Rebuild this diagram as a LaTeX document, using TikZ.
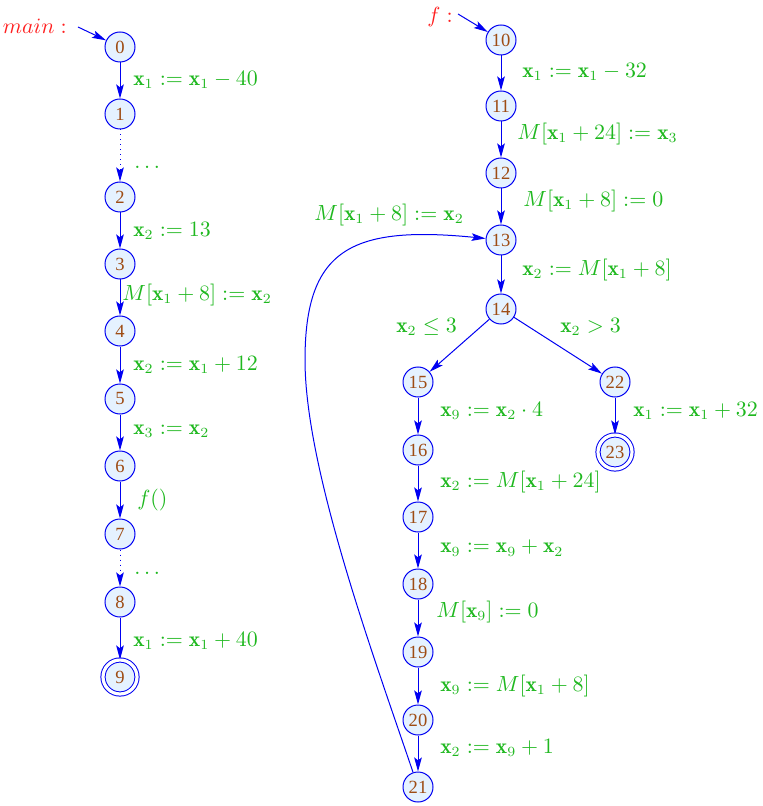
\documentclass[tikz,border=0pt]{standalone}
\usepackage{fontspec}
\newfontfamily\numfont{Liberation Serif}
\usetikzlibrary{arrows.meta}
\definecolor{nodeblue}{rgb}{0,0,0.95}
\definecolor{nodefill}{rgb}{0.9,0.95,1}
\definecolor{numbrown}{rgb}{0.62,0.3,0.08}
\definecolor{labgreen}{rgb}{0.12,0.72,0.12}
\definecolor{initred}{rgb}{1,0.12,0.12}
\begin{document}
\begin{tikzpicture}[x=0.5pt,y=-0.5pt,
  st/.style={circle,draw=nodeblue,fill=nodefill,line width=0.5pt,minimum size=15pt,inner sep=0pt,font=\fontsize{9.3}{10}\numfont,text=numbrown},
  acc/.style={st,double=white,double distance=1.6pt,minimum size=17pt},
  lab/.style={text=labgreen,font=\fontsize{10.7}{12}\selectfont,inner sep=0pt,anchor=west},
  ini/.style={text=initred,font=\fontsize{10.7}{12}\selectfont,inner sep=0pt,anchor=east},
  e/.style={draw=nodeblue,line width=0.5pt,-{Stealth[length=7pt,width=3.8pt,inset=1.4pt]}}]
\useasboundingbox (0,0) rectangle (762,806);

% main
\node[st] (n0) at (120,47) {0};
\node[st] (n1) at (120,114) {1};
\node[st] (n2) at (120,197) {2};
\node[st] (n3) at (120,264) {3};
\node[st] (n4) at (120,331) {4};
\node[st] (n5) at (120,399) {5};
\node[st] (n6) at (120,466) {6};
\node[st] (n7) at (120,534) {7};
\node[st] (n8) at (120,602) {8};
\node[acc] (n9) at (120,677) {9};

% f
\node[st] (n10) at (501,40) {10};
\node[st] (n11) at (501,106) {11};
\node[st] (n12) at (501,173) {12};
\node[st] (n13) at (501,240) {13};
\node[st] (n14) at (501,309) {14};
\node[st] (n15) at (418,382) {15};
\node[st] (n22) at (615,382) {22};
\node[acc] (n23) at (615,452) {23};
\node[st] (n16) at (418,450) {16};
\node[st] (n17) at (418,517) {17};
\node[st] (n18) at (418,584) {18};
\node[st] (n19) at (418,652) {19};
\node[st] (n20) at (418,720) {20};
\node[st] (n21) at (418,787) {21};

% initial
\node[ini] (mainlab) at (67,26) {$main:$};
\coordinate (mainstart) at (78,27);
\draw[e] (mainstart) -- (n0);
\node[ini] (flab) at (453,17) {$f:$};
\coordinate (fstart) at (458,14);
\draw[e] (fstart) -- (n10);

% main edges
\draw[e] (n0) -- (n1);
\draw[e,dotted] (n1) -- (n2);
\draw[e] (n2) -- (n3);
\draw[e] (n3) -- (n4);
\draw[e] (n4) -- (n5);
\draw[e] (n5) -- (n6);
\draw[e] (n6) -- (n7);
\draw[e,dotted] (n7) -- (n8);
\draw[e] (n8) -- (n9);

\node[lab] (l01) at (133,80) {$\mathbf{x}_1 := \mathbf{x}_1 - 40$};
\node[lab] (l12) at (134,167) {$\ldots$};
\node[lab] (l23) at (133,231) {$\mathbf{x}_2 := 13$};
\node[lab] (l34) at (122,295) {$M[\mathbf{x}_1+8] := \mathbf{x}_2$};
\node[lab] (l45) at (133,365) {$\mathbf{x}_2 := \mathbf{x}_1 + 12$};
\node[lab] (l56) at (133,431) {$\mathbf{x}_3 := \mathbf{x}_2$};
\node[lab] (l67) at (137,500) {$f()$};
\node[lab] (l78) at (134,573) {$\ldots$};
\node[lab] (l89) at (133,641) {$\mathbf{x}_1 := \mathbf{x}_1 + 40$};

% f edges
\draw[e] (n10) -- (n11);
\draw[e] (n11) -- (n12);
\draw[e] (n12) -- (n13);
\draw[e] (n13) -- (n14);
\draw[e] (n14) -- (n15);
\draw[e] (n14) -- (n22);
\draw[e] (n22) -- (n23);
\draw[e] (n15) -- (n16);
\draw[e] (n16) -- (n17);
\draw[e] (n17) -- (n18);
\draw[e] (n18) -- (n19);
\draw[e] (n19) -- (n20);
\draw[e] (n20) -- (n21);
\coordinate (bend) at (305,360);
\draw[e] (n21) .. controls (375,660) and (305,470) .. (bend) .. controls (305,250) and (350,225) .. (n13);

\node[lab] (l1011) at (522,72) {$\mathbf{x}_1 := \mathbf{x}_1 - 32$};
\node[lab] (l1112) at (517,134) {$M[\mathbf{x}_1+24] := \mathbf{x}_3$};
\node[lab] (l1213) at (523,201) {$M[\mathbf{x}_1+8] := 0$};
\node[lab] (l2113) at (314,215) {$M[\mathbf{x}_1+8] := \mathbf{x}_2$};
\node[lab] (l1314) at (522,270) {$\mathbf{x}_2 := M[\mathbf{x}_1+8]$};
\node[lab] (l1415) at (396,327) {$\mathbf{x}_2 \leq 3$};
\node[lab] (l1422) at (560,327) {$\mathbf{x}_2 > 3$};
\node[lab] (l1516) at (440,411) {$\mathbf{x}_9 := \mathbf{x}_2 \cdot 4$};
\node[lab] (l2223) at (633,411) {$\mathbf{x}_1 := \mathbf{x}_1 + 32$};
\node[lab] (l1617) at (440,482) {$\mathbf{x}_2 := M[\mathbf{x}_1+24]$};
\node[lab] (l1718) at (440,548) {$\mathbf{x}_9 := \mathbf{x}_9 + \mathbf{x}_2$};
\node[lab] (l1819) at (436,612) {$M[\mathbf{x}_9] := 0$};
\node[lab] (l1920) at (440,686) {$\mathbf{x}_9 := M[\mathbf{x}_1+8]$};
\node[lab] (l2021) at (440,748) {$\mathbf{x}_2 := \mathbf{x}_9 + 1$};
\end{tikzpicture}
\end{document}
